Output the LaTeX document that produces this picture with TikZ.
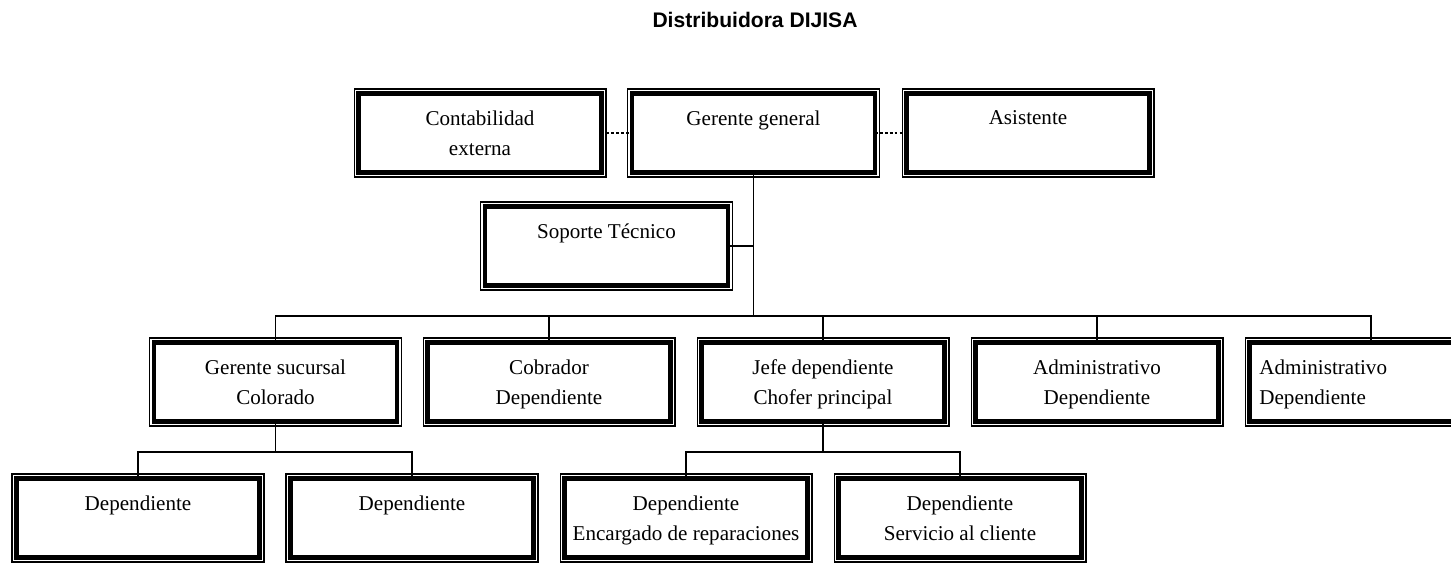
\documentclass[tikz,border=0pt]{standalone}
\usepackage{fontspec}
\setmainfont{Liberation Serif}
\newfontfamily\titlefont{Liberation Sans}

\tikzset{
  caja/.style={draw, line width=2.6pt, minimum width=4.86cm, minimum height=1.58cm,
    inner sep=0pt, outer sep=0pt},
  texto/.style={align=center, anchor=north, inner sep=0pt, yshift=-0.34cm,
    font=\fontsize{12}{17}\selectfont},
  linea/.style={line width=1pt},
  punteada/.style={line width=1.3pt, dash pattern=on 1.6pt off 1.2pt},
}

\begin{document}
\begin{tikzpicture}[x=0.02cm, y=-0.02cm]
\useasboundingbox (0,0) rectangle (1451,563);
\clip (0,0) rectangle (1451,563);

% titulo
\node[font=\titlefont\bfseries\fontsize{12}{14}\selectfont] (tit) at (755,20) {Distribuidora DIJISA};

% nivel 1
\node[caja, label={[texto]north:{Contabilidad\\externa}}] (cont) at (480,133) {};
\node[caja, label={[texto]north:{Gerente general}}] (gg) at (753.5,133) {};
\node[caja, label={[texto]north:{Asistente}}] (asis) at (1028,133) {};
\node[caja, label={[texto]north:{Soporte Técnico}}] (sop) at (606.5,246) {};

% nivel 2
\node[caja, label={[texto]north:{Gerente sucursal\\Colorado}}] (gs) at (275.5,382) {};
\node[caja, label={[texto]north:{Cobrador\\Dependiente}}] (cob) at (549,382) {};
\node[caja, label={[texto]north:{Jefe dependiente\\Chofer principal}}] (jefe) at (823,382) {};
\node[caja, label={[texto]north:{Administrativo\\Dependiente}}] (adm) at (1097,382) {};
\node[caja, label={[texto, align=left, anchor=north west, xshift=0.19cm]north west:{Administrativo\\Dependiente}}] (adm2) at (1371,382) {};

% nivel 3
\node[caja, label={[texto]north:{Dependiente}}] (dep1) at (138,518) {};
\node[caja, label={[texto]north:{Dependiente}}] (dep2) at (412,518) {};
\node[caja, label={[texto]north:{Dependiente\\Encargado de reparaciones}}] (dep3) at (686,518) {};
\node[caja, label={[texto]north:{Dependiente\\Servicio al cliente}}] (dep4) at (960,518) {};

% marco fino exterior
\foreach \n in {cont,gg,asis,sop,gs,cob,jefe,adm,adm2,dep1,dep2,dep3,dep4}
  \draw[line width=0.6pt] ([shift={(-4.5,-4.5)}]\n.north west) rectangle ([shift={(4.5,4.5)}]\n.south east);

% conexiones
\coordinate (b1) at (753.5,316);
\coordinate (b2) at (275.5,452);
\coordinate (b3) at (823,452);
\draw[punteada] (cont) -- (gg);
\draw[punteada] (gg) -- (asis);
\draw[linea] (gg) -- (b1);
\draw[linea] (sop.east) -- (sop.east -| b1);
\foreach \n in {gs,cob,jefe,adm,adm2}
  \draw[linea] (b1) -| (\n.north);
\draw[linea] (gs) -- (b2);
\foreach \n in {dep1,dep2}
  \draw[linea] (b2) -| (\n.north);
\draw[linea] (jefe) -- (b3);
\foreach \n in {dep3,dep4}
  \draw[linea] (b3) -| (\n.north);

\end{tikzpicture}
\end{document}
